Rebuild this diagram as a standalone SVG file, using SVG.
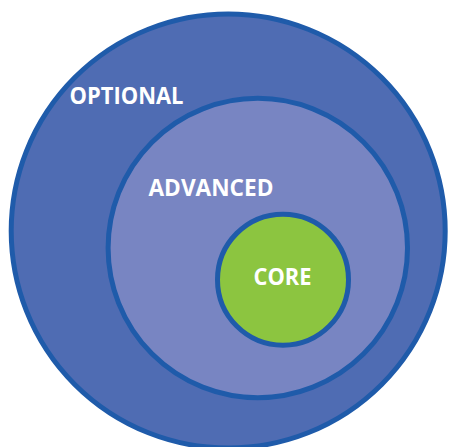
<svg xmlns="http://www.w3.org/2000/svg" width="450" height="447" viewBox="0 0 450 447">
<style>
.ring{stroke:#1F5BAA;stroke-width:5}
.lbl{font-family:"Open Sans","Liberation Sans",sans-serif;font-weight:bold;font-size:23px;fill:#FFFFFF}
</style>
<rect width="450" height="447" fill="#FFFFFF"/>
<g id="optional">
<circle class="ring" cx="228.2" cy="231" r="217" fill="#4F6CB3"/>
<text class="lbl" x="69.5" y="104" textLength="114" lengthAdjust="spacingAndGlyphs">OPTIONAL</text>
</g>
<g id="advanced">
<circle class="ring" cx="257.8" cy="248" r="149.7" fill="#7885C2"/>
<text class="lbl" x="148.5" y="195.5" textLength="125" lengthAdjust="spacingAndGlyphs">ADVANCED</text>
</g>
<g id="core">
<circle class="ring" cx="283" cy="279.7" r="65.5" fill="#8CC540"/>
<text class="lbl" x="253.5" y="285" textLength="58" lengthAdjust="spacingAndGlyphs">CORE</text>
</g>
<g id="connectors"/>
</svg>
